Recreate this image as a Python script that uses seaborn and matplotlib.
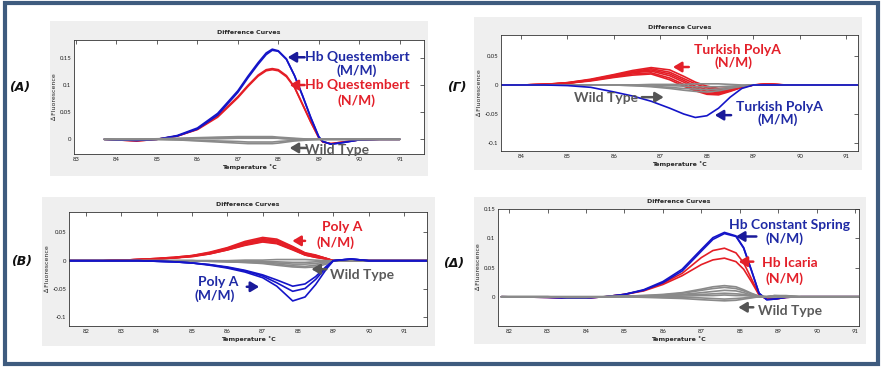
import matplotlib
matplotlib.use("Agg")
import matplotlib.pyplot as plt
from matplotlib.patches import Rectangle
import seaborn as sns
import pandas as pd

sns.set_style("white")
plt.rcParams["font.family"] = ["Lato", "DejaVu Sans"]

W, H = 882, 368

BLUE = "#1414c8"
RED = "#e41e26"
GREY = "#8a8a8a"
TXT_BLUE = "#1f2aa5"
TXT_RED = "#e3202a"
TXT_GREY = "#5a5a5a"

# ---------------- (A) Hb Questembert ----------------
TEMP_A = [83.7, 84.0, 84.5, 85.0, 85.5, 86.0, 86.5, 87.0, 87.25, 87.5, 87.7, 87.85,
          88.0, 88.2, 88.4, 88.6, 88.8, 89.0, 89.1, 89.3, 89.6, 90.0, 90.5, 91.0]
A_MM = [
    [0, -0.001, -0.002, 0.0, 0.007, 0.021, 0.048, 0.090, 0.117, 0.142, 0.160, 0.167,
     0.164, 0.149, 0.118, 0.080, 0.040, 0.004, -0.004, -0.009, -0.006, -0.001, 0, 0],
    [0, -0.001, -0.002, 0.0, 0.006, 0.019, 0.045, 0.087, 0.114, 0.139, 0.157, 0.165,
     0.163, 0.148, 0.118, 0.081, 0.041, 0.005, -0.004, -0.009, -0.006, -0.001, 0, 0],
]
A_NM = [
    [0, -0.001, -0.003, 0.0, 0.006, 0.019, 0.043, 0.079, 0.100, 0.119, 0.129, 0.131,
     0.129, 0.118, 0.097, 0.065, 0.033, 0.003, -0.005, -0.008, -0.005, -0.001, 0, 0],
    [0, -0.001, -0.003, 0.0, 0.006, 0.018, 0.041, 0.077, 0.098, 0.117, 0.127, 0.129,
     0.127, 0.116, 0.096, 0.064, 0.032, 0.003, -0.005, -0.008, -0.005, -0.001, 0, 0],
]
A_WT = [
    [0, 0, 0, 0.001, 0.002, 0.003, 0.004, 0.005, 0.005, 0.005, 0.005, 0.005,
     0.004, 0.003, 0.002, 0.001, 0, 0, 0, 0, 0, 0, 0, 0],
    [0, 0, 0, 0, 0.001, 0.002, 0.003, 0.003, 0.003, 0.003, 0.003, 0.003,
     0.002, 0.001, 0, 0, 0, 0, 0, 0, 0, 0, 0, 0],
    [0, 0, 0, 0, -0.001, -0.002, -0.003, -0.004, -0.005, -0.005, -0.005, -0.005,
     -0.004, -0.003, -0.002, -0.001, 0, 0, 0, 0, 0, 0, 0, 0],
    [0, 0, 0, 0, -0.001, -0.003, -0.005, -0.007, -0.008, -0.008, -0.008, -0.008,
     -0.007, -0.005, -0.003, -0.002, -0.001, 0, 0, 0, 0, 0, 0, 0],
    [0, 0, 0, 0, 0, 0.001, 0.001, 0.002, 0.002, 0.002, 0.002, 0.002,
     0.002, 0.001, 0.001, 0, 0, 0, 0, 0, 0, 0, 0, 0],
]

# ---------------- (Γ) Turkish PolyA ----------------
TEMP_G = [83.5, 84.0, 84.5, 85.0, 85.5, 86.0, 86.4, 86.8, 87.2, 87.5, 87.75, 88.0,
          88.25, 88.5, 88.75, 89.0, 89.3, 89.7, 90.2, 91.4]
G_MM = [
    [0, 0, 0, -0.001, -0.004, -0.012, -0.019, -0.028, -0.040, -0.050, -0.056, -0.053,
     -0.040, -0.021, -0.006, 0, 0, 0, 0, 0],
]
G_NM = [
    [0, 0, 0.001, 0.004, 0.010, 0.018, 0.025, 0.030, 0.026, 0.015, 0.005, -0.002,
     -0.006, -0.005, -0.002, 0, 0.002, 0, 0, 0],
    [0, 0, 0.001, 0.004, 0.009, 0.017, 0.023, 0.028, 0.022, 0.011, 0.002, -0.005,
     -0.008, -0.006, -0.002, 0, 0.002, 0, 0, 0],
    [0, 0, 0.001, 0.003, 0.009, 0.016, 0.022, 0.026, 0.019, 0.008, -0.002, -0.008,
     -0.011, -0.008, -0.003, 0, 0.001, 0, 0, 0],
    [0, 0, 0.001, 0.003, 0.008, 0.015, 0.021, 0.024, 0.016, 0.005, -0.005, -0.011,
     -0.013, -0.009, -0.003, 0, 0.001, 0, 0, 0],
    [0, 0, 0.001, 0.003, 0.008, 0.014, 0.019, 0.021, 0.012, 0.001, -0.008, -0.014,
     -0.015, -0.010, -0.004, 0, 0.001, 0, 0, 0],
    [0, 0, 0.001, 0.003, 0.007, 0.013, 0.017, 0.019, 0.009, -0.002, -0.010, -0.016,
     -0.017, -0.011, -0.004, 0, 0.001, 0, 0, 0],
]
G_WT = [
    [0, 0, 0, 0, 0, 0, 0, 0, -0.001, -0.002, -0.003, -0.003, -0.003, -0.002, -0.001, 0, 0, 0, 0, 0],
    [0, 0, 0, 0, 0, 0, -0.001, -0.002, -0.004, -0.006, -0.007, -0.008, -0.007, -0.004, -0.002, 0, 0, 0, 0, 0],
    [0, 0, 0, 0, 0, 0, -0.001, -0.003, -0.006, -0.009, -0.011, -0.012, -0.010, -0.006, -0.002, 0, 0, 0, 0, 0],
    [0, 0, 0, 0, 0, 0, 0, 0.001, 0.001, 0.001, 0.002, 0.002, 0.002, 0.001, 0, 0, 0, 0, 0, 0],
]

# ---------------- (B) Poly A ----------------
TEMP_B = [81.5, 82.5, 83.0, 83.5, 84.0, 84.5, 85.0, 85.5, 86.0, 86.5, 87.0, 87.4,
          87.85, 88.2, 88.5, 88.8, 89.0, 89.5, 90.0, 91.0, 91.85]
B_MM = [
    [0, 0, 0, 0, -0.001, -0.002, -0.004, -0.008, -0.013, -0.020, -0.030, -0.045,
     -0.071, -0.064, -0.042, -0.015, 0, 0.003, 0, 0, 0],
    [0, 0, 0, 0, -0.001, -0.002, -0.004, -0.007, -0.012, -0.018, -0.027, -0.039,
     -0.054, -0.049, -0.033, -0.012, 0, 0.003, 0, 0, 0],
    [0, 0, 0, 0, -0.001, -0.002, -0.004, -0.007, -0.011, -0.017, -0.025, -0.034,
     -0.045, -0.041, -0.028, -0.010, 0, 0.003, 0, 0, 0],
]
B_NM = [
    [0, 0, 0.001, 0.002, 0.004, 0.006, 0.009, 0.015, 0.023, 0.034, 0.041, 0.038,
     0.025, 0.014, 0.010, 0.004, 0, 0.001, 0, 0, 0],
    [0, 0, 0.001, 0.002, 0.004, 0.006, 0.009, 0.014, 0.022, 0.032, 0.039, 0.036,
     0.024, 0.013, 0.009, 0.004, 0, 0.001, 0, 0, 0],
    [0, 0, 0.001, 0.002, 0.003, 0.005, 0.008, 0.013, 0.021, 0.031, 0.037, 0.035,
     0.023, 0.013, 0.009, 0.004, 0, 0.001, 0, 0, 0],
    [0, 0, 0.001, 0.002, 0.003, 0.005, 0.008, 0.013, 0.020, 0.030, 0.036, 0.033,
     0.021, 0.011, 0.007, 0.003, 0, 0, 0, 0, 0],
    [0, 0, 0.001, 0.002, 0.003, 0.005, 0.008, 0.012, 0.019, 0.028, 0.034, 0.031,
     0.020, 0.010, 0.006, 0.003, 0, 0, 0, 0, 0],
    [0, 0, 0.001, 0.002, 0.003, 0.005, 0.007, 0.012, 0.019, 0.027, 0.033, 0.030,
     0.019, 0.010, 0.006, 0.003, 0, 0, 0, 0, 0],
]
B_WT = [
    [0, 0, 0, 0, 0, 0, 0, 0, -0.001, -0.001, -0.002, -0.002, -0.003, -0.003, -0.002, -0.001, 0, 0, 0, 0, 0],
    [0, 0, 0, 0, 0, 0, 0, -0.001, -0.001, -0.002, -0.003, -0.004, -0.006, -0.006, -0.005, -0.002, 0, 0, 0, 0, 0],
    [0, 0, 0, 0, 0, 0, 0, -0.001, -0.002, -0.003, -0.004, -0.006, -0.009, -0.010, -0.008, -0.004, 0, 0, 0, 0, 0],
    [0, 0, 0, 0, 0, 0, 0, -0.001, -0.002, -0.003, -0.005, -0.008, -0.011, -0.012, -0.011, -0.006, 0, 0, 0, 0, 0],
    [0, 0, 0, 0, 0, 0, 0, 0, 0, 0.001, 0.001, 0.002, 0.002, 0.002, 0.001, 0, 0, 0, 0, 0, 0],
]

# ---------------- (Δ) Hb Constant Spring / Hb Icaria ----------------
TEMP_D = [81.8, 83.0, 83.5, 84.0, 84.5, 85.0, 85.5, 86.0, 86.5, 87.0, 87.3, 87.6,
          87.9, 88.1, 88.3, 88.5, 88.7, 88.9, 89.2, 89.6, 90.0, 91.1]
D_CS = [
    [0, -0.001, -0.002, -0.002, 0.0, 0.004, 0.012, 0.026, 0.047, 0.081, 0.101, 0.110,
     0.104, 0.084, 0.046, 0.006, -0.005, -0.004, -0.001, 0, 0, 0],
    [0, -0.001, -0.002, -0.002, 0.0, 0.004, 0.011, 0.024, 0.044, 0.078, 0.098, 0.108,
     0.103, 0.083, 0.045, 0.006, -0.005, -0.004, -0.001, 0, 0, 0],
]
D_IC = [
    [0, -0.001, -0.002, -0.002, 0.0, 0.004, 0.011, 0.023, 0.040, 0.067, 0.079, 0.083,
     0.075, 0.058, 0.031, 0.004, -0.004, -0.004, -0.001, 0, 0, 0],
    [0, -0.001, -0.002, -0.002, 0.0, 0.004, 0.010, 0.021, 0.036, 0.055, 0.063, 0.066,
     0.060, 0.047, 0.026, 0.003, -0.004, -0.004, -0.001, 0, 0, 0],
]
D_WT = [
    [0, 0, -0.001, -0.001, 0, 0.001, 0.002, 0.004, 0.007, 0.013, 0.017, 0.019,
     0.017, 0.012, 0.006, 0.001, 0, 0.002, 0.002, 0, 0, 0],
    [0, 0, -0.001, -0.001, 0, 0.001, 0.002, 0.003, 0.006, 0.011, 0.014, 0.016,
     0.014, 0.010, 0.005, 0.001, 0, 0.002, 0.001, 0, 0, 0],
    [0, 0, -0.001, -0.001, 0, 0.001, 0.001, 0.002, 0.004, 0.007, 0.009, 0.011,
     0.010, 0.007, 0.003, 0, 0, 0.001, 0.001, 0, 0, 0],
    [0, 0, 0, 0, 0, 0, 0.001, 0.002, 0.003, 0.004, 0.005, 0.006,
     0.005, 0.004, 0.002, 0, 0, 0.001, 0, 0, 0, 0],
    [0, 0, 0, 0, 0, 0, 0, 0.001, 0.001, 0.002, 0.002, 0.003,
     0.002, 0.002, 0.001, 0, 0, 0, 0, 0, 0, 0],
    [0, 0, 0, 0, 0, 0, 0, -0.001, -0.001, -0.002, -0.003, -0.004,
     -0.003, -0.002, -0.001, 0, 0, 0, 0, 0, 0, 0],
    [0, 0, 0, 0, 0, 0, -0.001, -0.002, -0.003, -0.005, -0.006, -0.007,
     -0.006, -0.004, -0.002, 0, 0, 0, 0, 0, 0, 0],
]


def px_box(x0, y0, x1, y1):
    return [x0 / W, 1 - y1 / H, (x1 - x0) / W, (y1 - y0) / H]


def long_table(temp, groups):
    rows = []
    for gname, curves in groups:
        for i, vals in enumerate(curves):
            for t, v in zip(temp, vals):
                rows.append({"temp": t, "value": v, "group": gname, "curve": f"{gname}{i}"})
    return pd.DataFrame(rows)


fig = plt.figure(figsize=(W / 100, H / 100), dpi=100)


def panel(gray_box, ax_box, temp, groups, colors, xlim, ylim, xticks, yticks, yticklabels):
    fig.add_artist(Rectangle((gray_box[0] / W, 1 - gray_box[3] / H),
                             (gray_box[2] - gray_box[0]) / W, (gray_box[3] - gray_box[1]) / H,
                             transform=fig.transFigure, facecolor="#efefef",
                             edgecolor="none", zorder=-1))
    ax = fig.add_axes(px_box(*ax_box))
    df = long_table(temp, groups)
    order = [g for g, _ in groups]
    sns.lineplot(data=df, x="temp", y="value", hue="group", units="curve",
                 estimator=None, hue_order=order, palette=colors, legend=False,
                 sort=False, lw=1.2, ax=ax)
    for ln in ax.lines:
        ln.set_solid_joinstyle("round")
    ax.set_xlim(*xlim)
    ax.set_ylim(*ylim)
    ax.set_xticks(xticks)
    ax.set_xticklabels([str(t) for t in xticks])
    ax.set_yticks(yticks)
    ax.set_yticklabels(yticklabels)
    ax.tick_params(direction="in", length=3, width=0.5, labelsize=4.3, pad=2,
                   top=True, right=True, colors="#222222")
    for s in ax.spines.values():
        s.set_color("#333333")
        s.set_linewidth(0.6)
    ax.set_title("Difference Curves", fontsize=4.5, fontweight="bold", pad=4,
                 family="DejaVu Sans")
    ax.set_xlabel("Temperature ˚C", fontsize=4.5, fontweight="bold", labelpad=2,
                  family="DejaVu Sans")
    ax.set_ylabel("∆ Fluorescence", fontsize=4.5, labelpad=2, family="DejaVu Sans")
    return ax


def label(ax, x, y, s, color, size=10):
    ax.text(x, y, s, ha="center", va="center", fontsize=size, fontweight="bold",
            color=color, clip_on=False, zorder=5)


def arrow(ax, tail, tip, color):
    ax.annotate("", xy=tip, xytext=tail,
                arrowprops=dict(arrowstyle="-|>,head_length=0.5,head_width=0.3",
                                color=color, lw=1.8, shrinkA=0, shrinkB=0),
                zorder=5)


# (A)
axA = panel((50, 21, 428, 176), (74, 40, 424, 154), TEMP_A,
            [("wt", A_WT), ("nm", A_NM), ("mm", A_MM)],
            {"wt": GREY, "nm": RED, "mm": BLUE},
            (82.95, 91.6), (-0.0272, 0.184), list(range(83, 92)),
            [0, 0.05, 0.1, 0.15], ["0", "0.05", "0.1", "0.15"])
for ln in axA.lines[:len(A_WT)]:
    ln.set_zorder(3)
label(axA, 89.96, 0.152, "Hb Questembert", TXT_BLUE)
label(axA, 89.94, 0.128, "(M/M)", TXT_BLUE)
arrow(axA, (88.65, 0.152), (88.23, 0.152), "#1a1a9a")
label(axA, 89.96, 0.1006, "Hb Questembert", TXT_RED)
label(axA, 89.94, 0.071, "(N/M)", TXT_RED)
arrow(axA, (88.65, 0.1006), (88.28, 0.1006), TXT_RED)
label(axA, 89.45, -0.019, "Wild Type", TXT_GREY)
arrow(axA, (88.7, -0.016), (88.28, -0.016), "#555555")

# (Γ)
axG = panel((474, 17, 862, 170), (501, 35, 858, 151), TEMP_G,
            [("nm", G_NM), ("wt", G_WT), ("mm", G_MM)],
            {"wt": GREY, "nm": RED, "mm": BLUE},
            (83.57, 91.25), (-0.1138, 0.0862), list(range(84, 92)),
            [-0.1, -0.05, 0, 0.05], ["-0.1", "-0.05", "0", "0.05"])
label(axG, 88.65, 0.060, "Turkish PolyA", TXT_RED)
label(axG, 88.58, 0.038, "(N/M)", TXT_RED)
arrow(axG, (87.61, 0.031), (87.27, 0.031), TXT_RED)
label(axG, 85.83, -0.023, "Wild Type", TXT_GREY)
arrow(axG, (86.6, -0.021), (87.07, -0.021), "#555555")
label(axG, 89.57, -0.038, "Turkish PolyA", TXT_BLUE)
label(axG, 89.53, -0.060, "(M/M)", TXT_BLUE)
arrow(axG, (88.52, -0.052), (88.17, -0.052), "#1a1a9a")

# (B)
axB = panel((42, 197, 435, 346), (69, 212, 427, 326), TEMP_B,
            [("nm", B_NM), ("wt", B_WT), ("mm", B_MM)],
            {"wt": GREY, "nm": RED, "mm": BLUE},
            (81.52, 91.65), (-0.1152, 0.0859), list(range(82, 92)),
            [-0.1, -0.05, 0, 0.05], ["-0.1", "-0.05", "0", "0.05"])
label(axB, 89.25, 0.059, "Poly A", TXT_RED)
label(axB, 89.05, 0.032, "(N/M)", TXT_RED)
arrow(axB, (88.2, 0.035), (87.84, 0.035), TXT_RED)
label(axB, 89.8, -0.025, "Wild Type", TXT_GREY)
arrow(axB, (88.8, -0.015), (88.38, -0.015), "#555555")
label(axB, 85.74, -0.038, "Poly A", TXT_BLUE)
label(axB, 85.65, -0.062, "(M/M)", TXT_BLUE)
arrow(axB, (86.55, -0.046), (86.9, -0.046), "#1a1a9a")

# (Δ)
axD = panel((474, 197, 866, 344), (498, 209, 859, 326), TEMP_D,
            [("ic", D_IC), ("cs", D_CS), ("wt", D_WT)],
            {"wt": GREY, "ic": RED, "cs": BLUE},
            (81.71, 91.1), (-0.05, 0.15), list(range(82, 92)),
            [0, 0.05, 0.1, 0.15], ["0", "0.05", "0.1", "0.15"])
label(axD, 89.29, 0.123, "Hb Constant Spring", TXT_BLUE)
label(axD, 89.16, 0.100, "(N/M)", TXT_BLUE)
arrow(axD, (88.43, 0.103), (87.9, 0.103), "#1a1a9a")
label(axD, 89.29, 0.058, "Hb Icaria", TXT_RED)
label(axD, 89.16, 0.031, "(N/M)", TXT_RED)
arrow(axD, (88.35, 0.060), (87.97, 0.060), TXT_RED)
label(axD, 89.31, -0.024, "Wild Type", TXT_GREY)
arrow(axD, (88.35, -0.018), (87.96, -0.018), "#555555")

# panel letters
for x, y, s in [(20, 88, "(A)"), (457, 88, "(Γ)"), (22, 262, "(B)"), (454, 264, "(Δ)")]:
    fig.text(x / W, 1 - y / H, s, ha="center", va="center", fontsize=9,
             fontweight="bold", fontstyle="oblique", family="DejaVu Sans",
             color="#111111")

# outer frame
fig.add_artist(Rectangle((5 / W, 1 - 364 / H), 873 / W, 361 / H,
                         transform=fig.transFigure, fill=False,
                         edgecolor="#3e5b7e", lw=3, zorder=10))

fig.savefig("out.png", dpi=100)
